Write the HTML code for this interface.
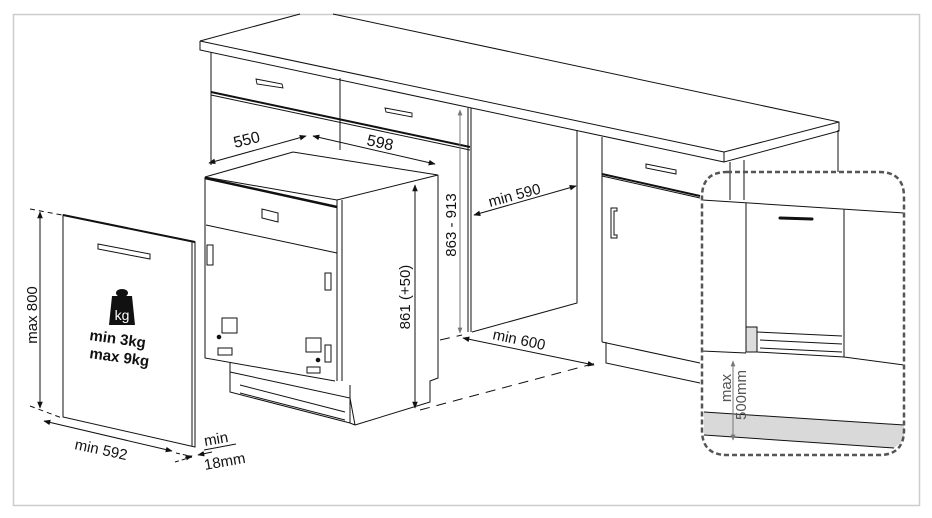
<!DOCTYPE html>
<html><head><meta charset="utf-8"><style>
html,body{margin:0;padding:0;background:#fff;}
svg{display:block;font-family:"Liberation Sans",Arial,sans-serif;}
</style></head><body>
<svg width="932" height="518" viewBox="0 0 932 518" xmlns="http://www.w3.org/2000/svg">
<defs>
<marker id="a" viewBox="0 0 10 10" refX="9" refY="5" markerWidth="7" markerHeight="7" orient="auto-start-reverse"><path d="M0,1 L10,5 L0,9 z" fill="#111"/></marker>
<marker id="g" viewBox="0 0 10 10" refX="9" refY="5" markerWidth="6" markerHeight="6" orient="auto-start-reverse"><path d="M0,1 L10,5 L0,9 z" fill="#777"/></marker>
</defs>
<rect x="13.5" y="14.5" width="906" height="491" fill="#fff" stroke="#ccc" stroke-width="1.5"/>
<g fill="none" stroke="#111" stroke-width="1">
<path d="M200,41 L300,14 M333,14 L839,122 L839,131 L724,162 L724,152 L839,122 M200,41 L724,152 M200,41 L200,50 L724,162"/>
<path d="M211,52 L211,165 M340,78 L340,150 M468,108 L468,332 M471,108 L471,332 M577,131 L577,303 L472,332"/>
<path d="M211,92 L470,147" stroke-width="2"/>
<path d="M211,95 L470,150"/>
<path d="M256,79 L282,84 L283,88 L257,84 z M385,108 L412,113 L412,117 L386,112 z" stroke-width="0.9"/>
<path d="M602,137 L602,342 M602,176 L700,198 M602,342 L700,363 M606,342 L606,363 L700,383 M730,162 L730,200 M744,160 L744,200 M838,130 L838,172"/>
<path d="M602,174 L700,196" stroke-width="2"/>
<path d="M646,164 L676,170 L676,174 L646,168 z"/>
<path d="M617,208 L611,208 L611,238 L617,238 L617,235 L614,235 L614,211 L617,211 z"/>
<path d="M702,200 L904,213 M746,203 L746,352 M844,209 L844,357 M702,351 L746,353 M844,357 L904,365 M757,352 L844,357"/>
<rect x="746" y="327" width="11" height="25" fill="#ddd" stroke="#111"/>
<path d="M757,332 L842,336 M760,340 L842,344 M760,348 L842,352"/>
<path d="M780,218 L812,219" stroke-width="3" stroke-linecap="round"/>
<path d="M704,412 L904,425 L904,440 L894,448 L704,435 z" fill="#d9d9d9" stroke="none"/>
<path d="M704,412 L904,425 M704,435 L894,448"/>
<path d="M727,172 L879,172 Q904,172 904,197 L904,430 Q904,455 879,455 L727,455 Q702,455 702,430 L702,197 Q702,172 727,172 z" stroke="#555" stroke-width="2.5" stroke-dasharray="5 3"/>
<path d="M733,361 L733,440" stroke="#777" marker-start="url(#g)" marker-end="url(#g)"/>
<path d="M205,177 L293,152 L438,175 L337,200 z"/>
<path d="M205,178 L337,207" stroke-width="2.5"/>
<path d="M205,177 L205,358 L335,381 M337,200 L337,381 M438,175 L438,378 L430,381 L430,402 L355,425 M342,200 L342,381"/>
<path d="M230,362 L230,392 L350,423 L355,425 M230,372 L350,398 L355,425 M240,385 L345,412 M240,393 L345,420 M350,385 L350,423"/>
<path d="M262,209 L262,218 L278,222 L278,213 z M207,245 L213,245 L213,265 L207,265 z M222,318 L237,318 L237,333 L222,333 z M218,348 L232,348 L232,355 L218,355 z M306,338 L321,338 L321,352 L306,352 z M307,367 L320,367 L320,373 L307,373 z M325,273 L331,273 L331,290 L325,290 z M325,345 L331,345 L331,362 L325,362 z M206,225 L337,253"/>
<circle cx="219" cy="337" r="1.8" fill="#111"/><circle cx="318" cy="360" r="1.8" fill="#111"/>
<path d="M209,163 L306,136" marker-start="url(#a)" marker-end="url(#a)"/>
<path d="M313,136 L435,164" marker-start="url(#a)" marker-end="url(#a)"/>
<path d="M415,185 L415,408" marker-start="url(#a)" marker-end="url(#a)"/>
<path d="M460,110 L460,333" stroke="#777" marker-start="url(#g)" marker-end="url(#g)"/>
<path d="M474,215 L576,186" marker-start="url(#a)" marker-end="url(#a)"/>
<path d="M463,338 L594,365" marker-start="url(#a)" marker-end="url(#a)"/>
<path d="M420,410 L600,362 M440,340 L462,335" stroke-dasharray="10 7"/>
<path d="M63,215 L195,242 L195,447 L63,417 z M192,241 L192,446"/>
<path d="M63,215 L195,242" stroke-width="2"/>
<path d="M98,244 L150,254 L150,259 L98,249 z"/>
<path d="M40,212 L40,408" marker-start="url(#a)" marker-end="url(#a)"/>
<path d="M30,209 L62,215 M30,406 L62,418" stroke-dasharray="5 4"/>
<path d="M44,421 L172,451" marker-start="url(#a)" marker-end="url(#a)"/>
<path d="M176,453 L190,456 M175,462 L192,457" stroke-dasharray="4 3"/>
<path d="M185,458 L192,456" marker-end="url(#a)"/><path d="M212,452 L198,455" marker-end="url(#a)"/>
<path d="M204,450 L236,444"/>
</g>
<path d="M112,296 L132,296 L135,325 L109,325 z" fill="#111"/>
<ellipse cx="122" cy="293" rx="6" ry="4" fill="#111"/>
<text x="122" y="320" font-size="14" fill="#fff" text-anchor="middle" font-family="Liberation Sans, sans-serif">kg</text>
<g font-size="15" fill="#111">
<text x="89" y="340" font-weight="bold" transform="rotate(8 89 340)">min 3kg</text>
<text x="89" y="358" font-weight="bold" transform="rotate(8 89 358)">max 9kg</text>
<text x="37" y="315" text-anchor="middle" transform="rotate(-90 37 315)">max 800</text>
<text x="74" y="449" transform="rotate(12 74 449)">min 592</text>
<text x="205" y="446" transform="rotate(-10 205 446)">min</text>
<text x="205" y="470" transform="rotate(-10 205 470)">18mm</text>
<text x="235" y="148" font-size="16" transform="rotate(-14 235 148)">550</text>
<text x="366" y="145" font-size="16" transform="rotate(12 366 145)">598</text>
<text x="410" y="297" text-anchor="middle" transform="rotate(-90 410 297)">861 (+50)</text>
<text x="456" y="225" text-anchor="middle" transform="rotate(-90 456 225)">863 - 913</text>
<text x="490" y="207" transform="rotate(-15 490 207)">min 590</text>
<text x="492" y="339" transform="rotate(12 492 339)">min 600</text>
<text x="731" y="388" text-anchor="middle" fill="#555" transform="rotate(-90 731 388)">max</text>
<text x="746" y="395" text-anchor="middle" fill="#555" transform="rotate(-90 746 395)">500mm</text>
</g>
</svg>
</body></html>
